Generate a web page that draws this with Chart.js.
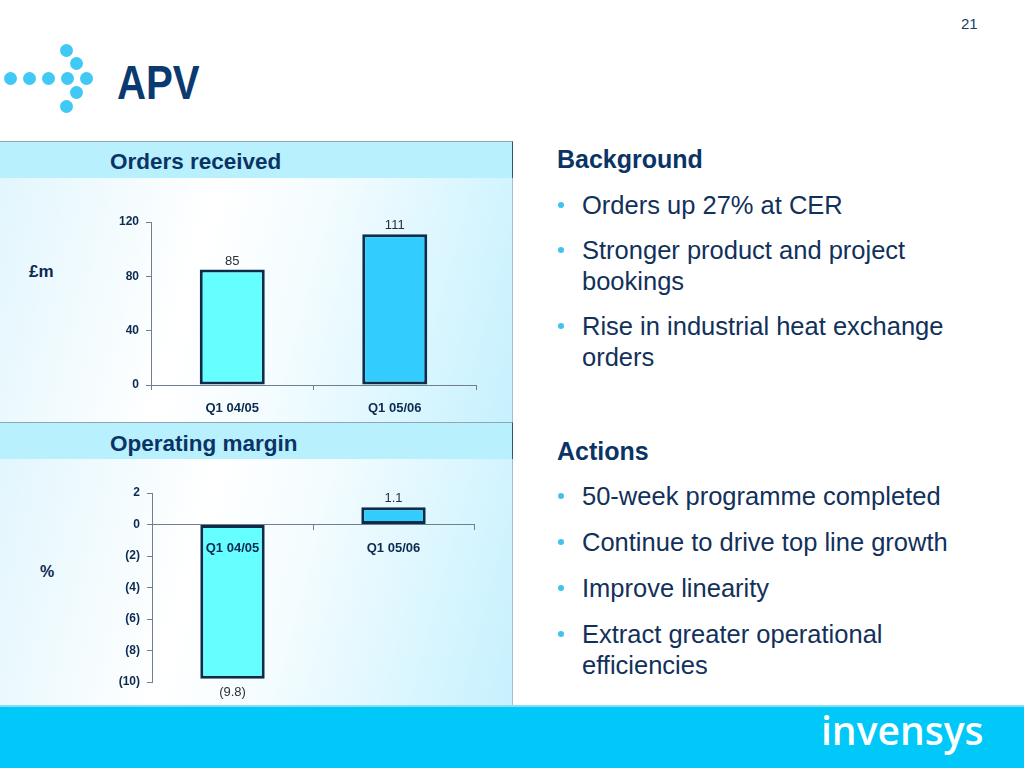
<!DOCTYPE html>
<html>
<head>
<meta charset="utf-8">
<script src="https://cdn.jsdelivr.net/npm/chart.js@4.4.1/dist/chart.umd.min.js"></script>
<style>
  body { margin: 0; width: 1024px; height: 768px; position: relative; overflow: hidden; background: #fff;
         font-family: "Liberation Sans", Arial, sans-serif; color: #12315a; }
  .abs { position: absolute; white-space: nowrap; }
  .dot { position: absolute; width: 13px; height: 13px; border-radius: 50%; background: #3fc9f4; }
  .head { position: absolute; left: 0; width: 512px; background: #b9f0fd;
          border-top: 1px solid #8fa6b6; border-bottom: 1px solid #2f5872; border-right: 1px solid #2f5872; }
  .body { position: absolute; left: 0; width: 512px; border-right: 1px solid #a9bccb;
          background: linear-gradient(105deg, #e2f6fd 0%, #ffffff 38%, #f3fcff 58%, #c6f1fe 100%); }
  .htxt { position: absolute; left: 110px; font-size: 22.5px; line-height: 23px; font-weight: bold; color: #0b3466; }
  .sec { position: absolute; left: 557px; font-size: 25px; line-height: 31px; font-weight: bold; color: #0b3466; }
  .li { position: absolute; left: 582px; font-size: 25.5px; line-height: 31px; color: #12315a; white-space: nowrap; }
  .li::before { content: ""; position: absolute; left: -24px; top: 12px; width: 6px; height: 6px;
                border-radius: 50%; background: #3fc2ee; }
  canvas { position: absolute; }
</style>
</head>
<body>
<div class="abs" style="left:961px;top:15px;font-size:15px;color:#1a3a6a;">21</div>

<div class="dot" style="left:4px;top:72px"></div>
<div class="dot" style="left:23px;top:72px"></div>
<div class="dot" style="left:42px;top:72px"></div>
<div class="dot" style="left:61px;top:72px"></div>
<div class="dot" style="left:80px;top:72px"></div>
<div class="dot" style="left:60px;top:44px"></div>
<div class="dot" style="left:70px;top:57px"></div>
<div class="dot" style="left:70px;top:86px"></div>
<div class="dot" style="left:60px;top:100px"></div>
<div class="abs" style="left:117px;top:58px;font-size:49px;line-height:49px;font-weight:bold;color:#0a3a70;transform:scaleX(0.82);transform-origin:left top;">APV</div>

<div class="head" style="top:141px;height:36px"></div>
<div class="htxt" style="top:150px">Orders received</div>
<div class="body" style="top:178px;height:244px"></div>
<div class="head" style="top:422px;height:36px"></div>
<div class="htxt" style="top:432px">Operating margin</div>
<div class="body" style="top:459px;height:247px"></div>

<div class="abs" style="left:29px;top:262px;font-size:17px;font-weight:bold;color:#0d2a50;">£m</div>
<div class="abs" style="left:40px;top:563px;font-size:16px;font-weight:bold;color:#0d2a50;">%</div>

<canvas id="ordersChart" width="400" height="222" style="left:100px;top:200px"></canvas>
<canvas id="marginChart" width="400" height="232" style="left:100px;top:470px"></canvas>

<div class="sec" style="top:144px">Background</div>
<div class="li" style="top:190px">Orders up 27% at CER</div>
<div class="li" style="top:235px">Stronger product and project<br>bookings</div>
<div class="li" style="top:311px">Rise in industrial heat exchange<br>orders</div>
<div class="sec" style="top:436px">Actions</div>
<div class="li" style="top:481px">50-week programme completed</div>
<div class="li" style="top:527px">Continue to drive top line growth</div>
<div class="li" style="top:573px">Improve linearity</div>
<div class="li" style="top:619px">Extract greater operational<br>efficiencies</div>

<div class="abs" style="left:0;top:705px;width:1024px;height:2px;background:#86def2"></div>
<div class="abs" style="left:0;top:707px;width:1024px;height:61px;background:#00c8f8"></div>
<div class="abs" style="left:821px;top:711px;font-family:'Open Sans',sans-serif;font-weight:600;font-size:39px;line-height:38px;color:#fff;">invensys</div>

<script>
const categories = ['Q1 04/05', 'Q1 05/06'];
const ordersValues = [85, 111];
const marginValues = [-9.8, 1.1];
const ordersTicks = [0, 40, 80, 120];
const marginTicks = [-10, -8, -6, -4, -2, 0, 2];
const barColors = ['#66ffff', '#33ccff'];

const axisColor = '#6f7f8e';
const labelColor = '#0d2a50';
const fontFamily = '"Liberation Sans", Arial, sans-serif';

// negatives shown in brackets, like the slide
function fmt(v) {
  return v < 0 ? '(' + (-v) + ')' : String(v);
}

const valueLabels = {
  id: 'valueLabels',
  afterDatasetsDraw(chart) {
    const ctx = chart.ctx;
    const meta = chart.getDatasetMeta(0);
    const data = chart.data.datasets[0].data;
    ctx.save();
    ctx.font = '13px ' + fontFamily;
    ctx.fillStyle = '#2b2f36';
    ctx.textAlign = 'center';
    ctx.textBaseline = 'alphabetic';
    meta.data.forEach((bar, i) => {
      const v = data[i];
      if (v < 0) {
        ctx.fillText(fmt(v), bar.x, bar.y + 17);
      } else {
        ctx.fillText(fmt(v), bar.x, bar.y - 5);
      }
    });
    ctx.restore();
  }
};

function makeChart(id, values, tickList, yWidth, padding, xOpts) {
  return new Chart(document.getElementById(id), {
    type: 'bar',
    data: {
      labels: categories,
      datasets: [{
        data: values,
        backgroundColor: barColors,
        borderColor: '#0b2d4a',
        borderWidth: 3,
        borderSkipped: false,
        barPercentage: 0.4,
        categoryPercentage: 1
      }]
    },
    plugins: [valueLabels],
    options: {
      responsive: false,
      animation: false,
      layout: { padding: padding },
      plugins: { legend: { display: false }, tooltip: { enabled: false } },
      scales: {
        x: Object.assign({
          border: { display: true, color: axisColor, width: 1, z: 1 },
          grid: { drawOnChartArea: false, drawTicks: true, tickLength: 5, color: axisColor, offset: true },
          ticks: { padding: 11, z: 1, color: labelColor, font: { family: fontFamily, size: 13, weight: 'bold' } }
        }, xOpts),
        y: {
          min: tickList[0],
          max: tickList[tickList.length - 1],
          afterBuildTicks: s => { s.ticks = tickList.map(v => ({ value: v })); },
          afterFit: s => { s.width = yWidth; },
          border: { display: true, color: axisColor, width: 1 },
          grid: { drawOnChartArea: false, drawTicks: true, tickLength: 5, color: axisColor },
          ticks: { padding: 7, color: labelColor, font: { family: fontFamily, size: 12, weight: 'bold' },
                   callback: v => fmt(v) }
        }
      }
    }
  });
}

makeChart('ordersChart', ordersValues, ordersTicks, 51,
  { top: 22, right: 24, bottom: 0, left: 0 },
  { afterFit: s => { s.height = 37; } });

makeChart('marginChart', marginValues, marginTicks, 52,
  { top: 23, right: 26, bottom: 20, left: 0 },
  { position: { y: 0 } });
</script>
</body>
</html>
